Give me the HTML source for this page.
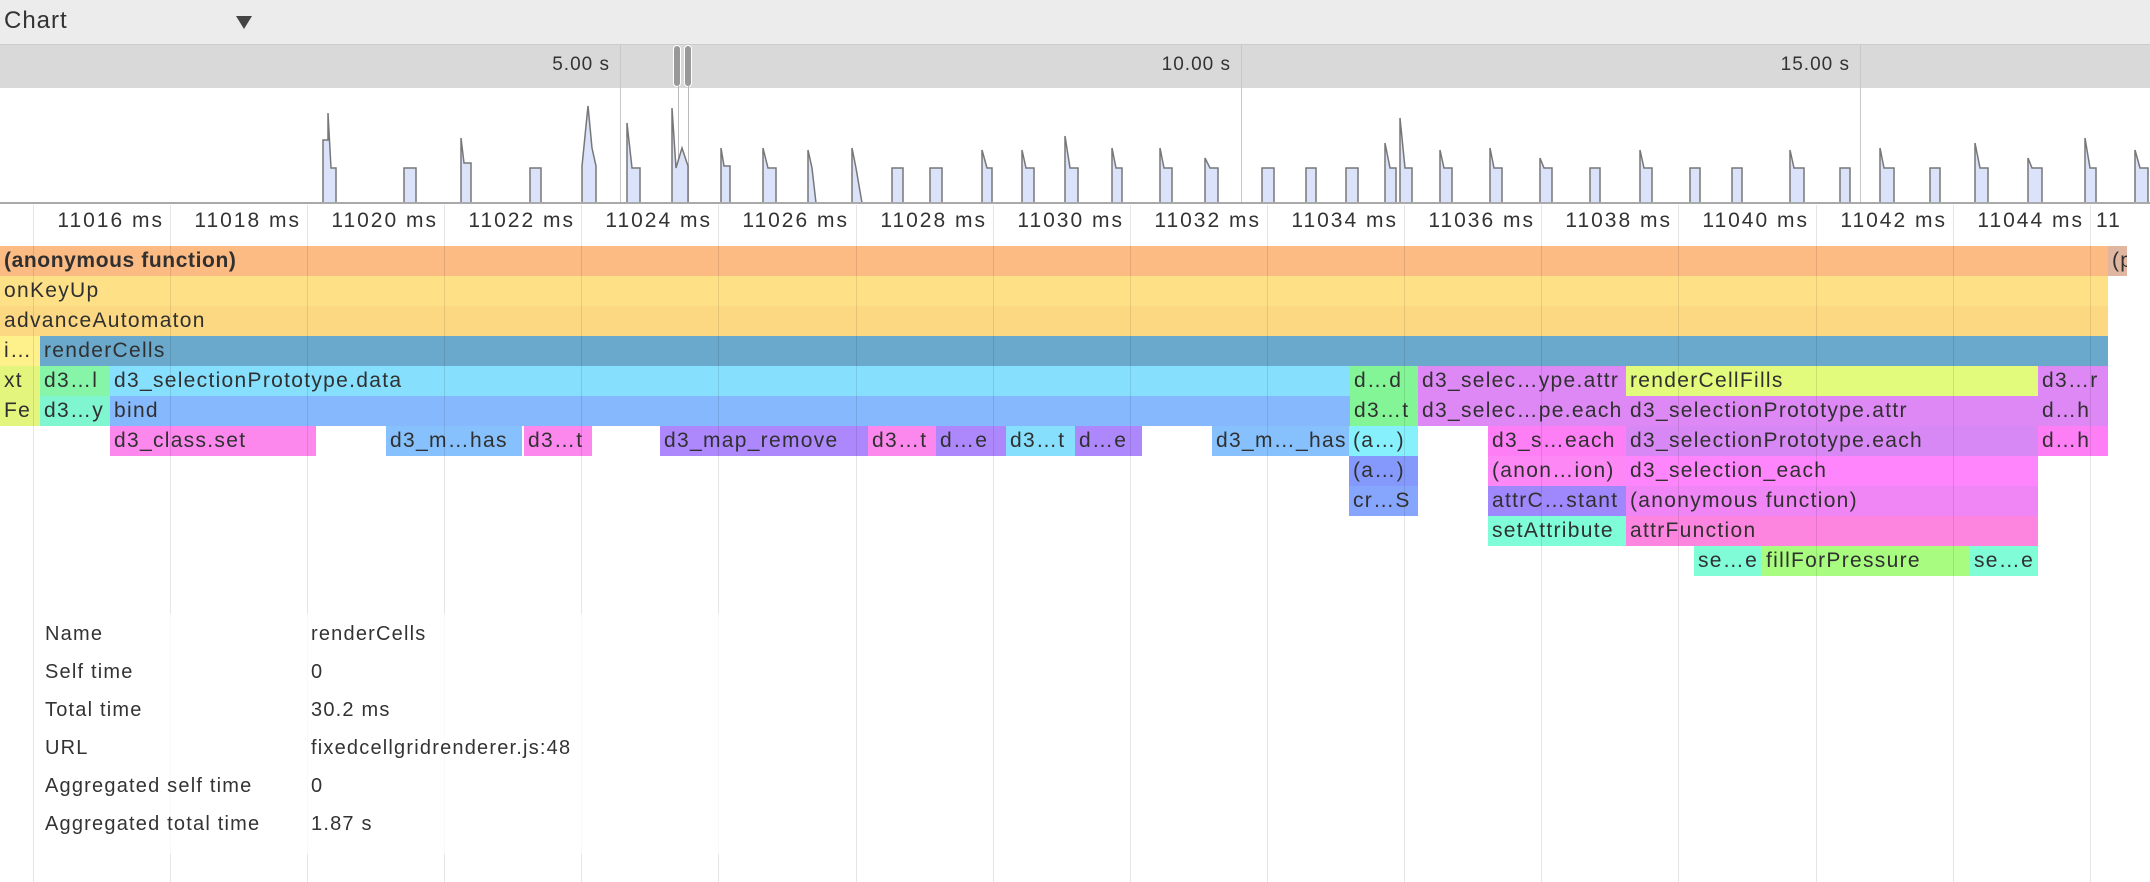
<!DOCTYPE html>
<html><head><meta charset="utf-8"><style>
body{margin:0;width:2150px;height:882px;overflow:hidden;background:#fff;position:relative;font-family:"Liberation Sans",sans-serif;color:#333}
.a{position:absolute}
.b{position:absolute;height:30px;line-height:30px;font-size:21px;letter-spacing:1.3px;padding-left:4px;box-sizing:border-box;white-space:nowrap;overflow:hidden;color:#303030}
.g{position:absolute;top:205px;bottom:0;width:1px;background:rgba(0,0,0,0.1);z-index:5}
.t{position:absolute;top:205px;height:32px;line-height:32px;font-size:21px;letter-spacing:2px;text-align:right;width:130px;color:#333}
.d{position:absolute;font-size:20px;letter-spacing:1.2px;color:#333;z-index:7}
</style></head><body>
<div class="a" style="left:0;top:0;width:2150px;height:44px;background:#ececec;border-bottom:1px solid #ccc"></div>
<div class="a" style="left:4px;top:7px;font-size:24px;letter-spacing:1px;color:#333">Chart</div>
<div class="a" style="left:236px;top:16px;width:0;height:0;border-left:8px solid transparent;border-right:8px solid transparent;border-top:13px solid #444"></div>
<div class="a" style="left:0;top:45px;width:2150px;height:43px;background:#d9d9d9"></div>
<div class="a" style="left:620px;top:45px;width:1px;height:158px;background:#c8c8c8"></div>
<div class="a" style="left:1241px;top:45px;width:1px;height:158px;background:#c8c8c8"></div>
<div class="a" style="left:1860px;top:45px;width:1px;height:158px;background:#c8c8c8"></div>
<div class="a" style="left:500px;top:54px;width:110px;text-align:right;font-size:19px;letter-spacing:1px">5.00 s</div>
<div class="a" style="left:1121px;top:54px;width:110px;text-align:right;font-size:19px;letter-spacing:1px">10.00 s</div>
<div class="a" style="left:1740px;top:54px;width:110px;text-align:right;font-size:19px;letter-spacing:1px">15.00 s</div>
<div class="a" style="left:673px;top:45px;width:6px;height:40px;background:#999;border:1px solid #fff;border-radius:4px"></div>
<div class="a" style="left:684px;top:45px;width:6px;height:40px;background:#999;border:1px solid #fff;border-radius:4px"></div>
<div class="a" style="left:678px;top:86px;width:1px;height:117px;background:#bbb"></div>
<div class="a" style="left:688px;top:86px;width:1px;height:117px;background:#bbb"></div>
<svg class="a" style="left:0;top:88px" width="2150" height="116">
<g fill="#dbe3fa" stroke="#777" stroke-width="1.5">
<path d="M323 115 V52 H328 V25 L331 80 H336 V115Z"/>
<path d="M404 115 V80 H416 V115Z"/>
<path d="M461 115 V50 L464 75 H471 V115Z"/>
<path d="M530 115 V80 H541 V115Z"/>
<path d="M582 115 V78 L588 18 L592 60 L596 78 V115Z"/>
<path d="M627 115 V35 L632 80 H640 V115Z"/>
<path d="M672 115 V20 L676 80 L682 60 L688 78 V115Z"/>
<path d="M721 115 V60 L724 78 H730 V115Z"/>
<path d="M763 115 V60 L768 80 H776 V115Z"/>
<path d="M808 115 V62 L812 80 L816 115Z"/>
<path d="M852 115 V60 L856 80 L862 115Z"/>
<path d="M892 115 V80 H903 V115Z"/>
<path d="M930 115 V80 H942 V115Z"/>
<path d="M982 115 V62 L987 80 H992 V115Z"/>
<path d="M1022 115 V62 L1026 80 H1034 V115Z"/>
<path d="M1065 115 V48 L1070 80 H1078 V115Z"/>
<path d="M1112 115 V60 L1116 80 H1122 V115Z"/>
<path d="M1160 115 V60 L1164 80 H1172 V115Z"/>
<path d="M1205 115 V70 L1210 80 H1218 V115Z"/>
<path d="M1262 115 V80 H1274 V115Z"/>
<path d="M1306 115 V80 H1316 V115Z"/>
<path d="M1346 115 V80 H1358 V115Z"/>
<path d="M1385 115 V55 L1390 80 H1396 V115Z"/>
<path d="M1400 115 V30 L1405 80 H1412 V115Z"/>
<path d="M1440 115 V62 L1444 80 H1452 V115Z"/>
<path d="M1490 115 V60 L1494 80 H1502 V115Z"/>
<path d="M1540 115 V70 L1544 80 H1552 V115Z"/>
<path d="M1590 115 V80 H1600 V115Z"/>
<path d="M1640 115 V62 L1644 80 H1652 V115Z"/>
<path d="M1690 115 V80 H1700 V115Z"/>
<path d="M1732 115 V80 H1742 V115Z"/>
<path d="M1790 115 V62 L1794 80 H1804 V115Z"/>
<path d="M1840 115 V80 H1850 V115Z"/>
<path d="M1880 115 V60 L1884 80 H1894 V115Z"/>
<path d="M1930 115 V80 H1940 V115Z"/>
<path d="M1975 115 V55 L1980 80 H1988 V115Z"/>
<path d="M2028 115 V70 L2032 80 H2042 V115Z"/>
<path d="M2085 115 V50 L2090 80 H2096 V115Z"/>
<path d="M2135 115 V62 L2140 80 H2148 V115Z"/>
</g></svg>
<div class="a" style="left:0;top:202px;width:2150px;height:2px;background:#aaa"></div>

<div class="g" style="left:33px"></div><div class="g" style="left:170px"></div><div class="g" style="left:307px"></div><div class="g" style="left:444px"></div><div class="g" style="left:581px"></div><div class="g" style="left:718px"></div><div class="g" style="left:856px"></div><div class="g" style="left:993px"></div><div class="g" style="left:1130px"></div><div class="g" style="left:1267px"></div><div class="g" style="left:1404px"></div><div class="g" style="left:1541px"></div><div class="g" style="left:1678px"></div><div class="g" style="left:1816px"></div><div class="g" style="left:1953px"></div><div class="g" style="left:2090px"></div>
<div class="t" style="left:34px">11016 ms</div><div class="t" style="left:171px">11018 ms</div><div class="t" style="left:308px">11020 ms</div><div class="t" style="left:445px">11022 ms</div><div class="t" style="left:582px">11024 ms</div><div class="t" style="left:719px">11026 ms</div><div class="t" style="left:857px">11028 ms</div><div class="t" style="left:994px">11030 ms</div><div class="t" style="left:1131px">11032 ms</div><div class="t" style="left:1268px">11034 ms</div><div class="t" style="left:1405px">11036 ms</div><div class="t" style="left:1542px">11038 ms</div><div class="t" style="left:1679px">11040 ms</div><div class="t" style="left:1817px">11042 ms</div><div class="t" style="left:1954px">11044 ms</div>
<div class="a" style="left:2096px;top:205px;height:32px;line-height:32px;font-size:21px;letter-spacing:2px">11</div>

<div class="b" style="left:0;top:246px;width:2108px;background:#fdbb84;font-weight:bold;letter-spacing:0.6px">(anonymous function)</div>
<div class="b" style="left:2108px;top:246px;width:19px;background:#e0b6a0">(p</div>
<div class="b" style="left:0;top:276px;width:2108px;background:#fee187">onKeyUp</div>
<div class="b" style="left:0;top:306px;width:2108px;background:#fcd882">advanceAutomaton</div>
<div class="b" style="left:0;top:336px;width:40px;background:#fef08a">i…</div>
<div class="b" style="left:40px;top:336px;width:2068px;background:#6aa9cc">renderCells</div>

<div class="b" style="left:0;top:366px;width:40px;background:#e3f57d">xt</div>
<div class="b" style="left:40px;top:366px;width:70px;background:#86f5a8">d3…l</div>
<div class="b" style="left:110px;top:366px;width:1240px;background:#86dffd">d3_selectionPrototype.data</div>
<div class="b" style="left:1350px;top:366px;width:68px;background:#83f596">d…d</div>
<div class="b" style="left:1418px;top:366px;width:208px;background:#dd88f5">d3_selec…ype.attr</div>
<div class="b" style="left:1626px;top:366px;width:412px;background:#e2fb7c">renderCellFills</div>
<div class="b" style="left:2038px;top:366px;width:70px;background:#dd88f5">d3…r</div>

<div class="b" style="left:0;top:396px;width:40px;background:#e3f57d">Fe</div>
<div class="b" style="left:40px;top:396px;width:70px;background:#7ff5d0">d3…y</div>
<div class="b" style="left:110px;top:396px;width:1240px;background:#86b8fd">bind</div>
<div class="b" style="left:1350px;top:396px;width:68px;background:#83f596">d3…t</div>
<div class="b" style="left:1418px;top:396px;width:208px;background:#dd88f5">d3_selec…pe.each</div>
<div class="b" style="left:1626px;top:396px;width:412px;background:#dd88f5">d3_selectionPrototype.attr</div>
<div class="b" style="left:2038px;top:396px;width:70px;background:#dd88f5">d…h</div>

<div class="b" style="left:110px;top:426px;width:206px;background:#fc88ee">d3_class.set</div>
<div class="b" style="left:386px;top:426px;width:136px;background:#86c1fd">d3_m…has</div>
<div class="b" style="left:524px;top:426px;width:68px;background:#fc88ee">d3…t</div>
<div class="b" style="left:660px;top:426px;width:208px;background:#ad88fd">d3_map_remove</div>
<div class="b" style="left:868px;top:426px;width:68px;background:#fc88ee">d3…t</div>
<div class="b" style="left:936px;top:426px;width:70px;background:#ad88fd">d…e</div>
<div class="b" style="left:1006px;top:426px;width:69px;background:#86dffd">d3…t</div>
<div class="b" style="left:1075px;top:426px;width:67px;background:#ad88fd">d…e</div>
<div class="b" style="left:1212px;top:426px;width:137px;background:#86c1fd">d3_m…_has</div>
<div class="b" style="left:1349px;top:426px;width:69px;background:#86f0fd">(a…)</div>
<div class="b" style="left:1488px;top:426px;width:138px;background:#fd7ef5">d3_s…each</div>
<div class="b" style="left:1626px;top:426px;width:412px;background:#d888f5">d3_selectionPrototype.each</div>
<div class="b" style="left:2038px;top:426px;width:70px;background:#fd7ef5">d…h</div>

<div class="b" style="left:1349px;top:456px;width:69px;background:#8599fd">(a…)</div>
<div class="b" style="left:1488px;top:456px;width:138px;background:#fd88f5">(anon…ion)</div>
<div class="b" style="left:1626px;top:456px;width:412px;background:#ff85fc">d3_selection_each</div>

<div class="b" style="left:1349px;top:486px;width:69px;background:#86a5fd">cr…S</div>
<div class="b" style="left:1488px;top:486px;width:138px;background:#9f88fd">attrC…stant</div>
<div class="b" style="left:1626px;top:486px;width:412px;background:#f085f5">(anonymous function)</div>

<div class="b" style="left:1488px;top:516px;width:138px;background:#7ffcd8">setAttribute</div>
<div class="b" style="left:1626px;top:516px;width:412px;background:#fd85e0">attrFunction</div>

<div class="b" style="left:1694px;top:546px;width:68px;background:#80fcd6">se…e</div>
<div class="b" style="left:1762px;top:546px;width:208px;background:#a8fd80">fillForPressure</div>
<div class="b" style="left:1970px;top:546px;width:68px;background:#80fcd6">se…e</div>

<div class="a" style="left:36px;top:614px;width:790px;height:240px;background:rgba(255,255,255,0.75);z-index:6"></div>
<div class="d" style="left:45px;top:623px">Name</div><div class="d" style="left:311px;top:623px">renderCells</div>
<div class="d" style="left:45px;top:661px">Self time</div><div class="d" style="left:311px;top:661px">0</div>
<div class="d" style="left:45px;top:699px">Total time</div><div class="d" style="left:311px;top:699px">30.2 ms</div>
<div class="d" style="left:45px;top:737px">URL</div><div class="d" style="left:311px;top:737px">fixedcellgridrenderer.js:48</div>
<div class="d" style="left:45px;top:775px">Aggregated self time</div><div class="d" style="left:311px;top:775px">0</div>
<div class="d" style="left:45px;top:813px">Aggregated total time</div><div class="d" style="left:311px;top:813px">1.87 s</div>
</body></html>
